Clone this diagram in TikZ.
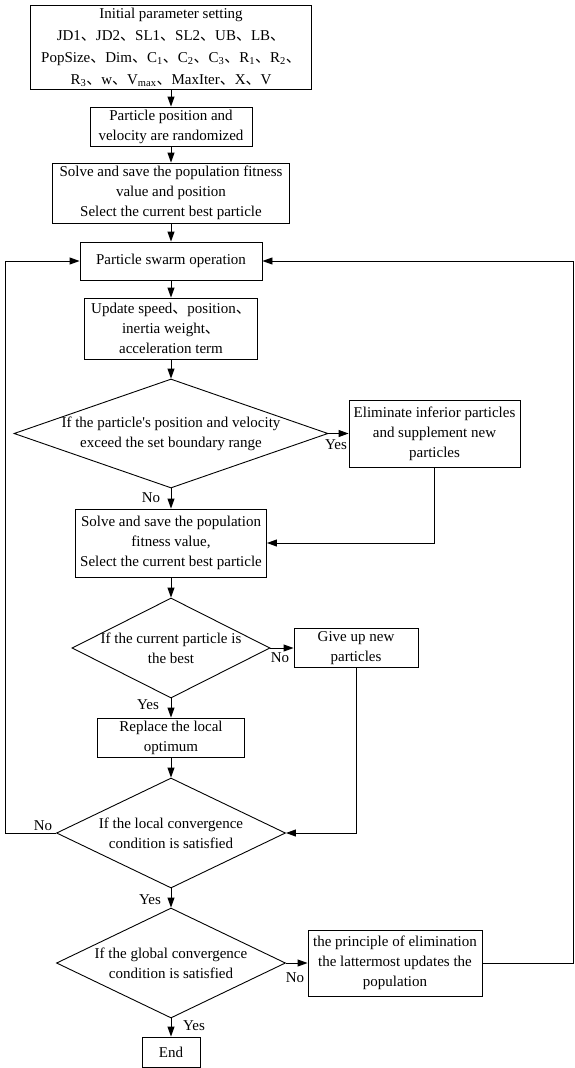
\documentclass[tikz,border=0pt]{standalone}
\usepackage{fontspec}
\setmainfont{Liberation Serif}[Ligatures=TeXOff]
\newfontfamily\cjkf{Noto Sans CJK SC}
\newcommand{\dcm}{{\cjkf 、}}
\usetikzlibrary{shapes.geometric,arrows.meta}
\begin{document}
\begin{tikzpicture}[x=1pt,y=-1pt,
  txt/.style={font=\fontsize{15}{20}\selectfont, align=center, inner sep=0pt},
  box/.style={txt, draw, line width=0.9pt},
  dia/.style={diamond, draw, line width=0.9pt, inner sep=0pt},
  lbl/.style={font=\fontsize{15}{18}\selectfont, inner sep=0pt},
  arr/.style={line width=0.9pt, -{Triangle[length=10pt,width=7pt]}},
  ln/.style={line width=0.9pt}]
\useasboundingbox (0,0) rectangle (574,1068);
\node[box, minimum width=280.5pt, minimum height=84pt, font=\fontsize{15}{22}\selectfont] (init) at (171,47)
  {Initial parameter setting\\JD1\dcm JD2\dcm SL1\dcm SL2\dcm UB\dcm LB\dcm\\PopSize\dcm Dim\dcm C\textsubscript{1}\dcm C\textsubscript{2}\dcm C\textsubscript{3}\dcm R\textsubscript{1}\dcm R\textsubscript{2}\dcm\\R\textsubscript{3}\dcm w\dcm V\textsubscript{max}\dcm MaxIter\dcm X\dcm V};
\node[box, minimum width=162pt, minimum height=39pt] (rand) at (171,126.5)
  {Particle position and\\velocity are randomized};
\node[box, minimum width=237pt, minimum height=60pt] (solve1) at (171,193)
  {Solve and save the population fitness\\value and position\\Select the current best particle};
\node[box, minimum width=182pt, minimum height=38pt] (swarm) at (171,261)
  {Particle swarm operation};
\node[box, minimum width=173pt, minimum height=61pt] (upd) at (171,328.5)
  {Update speed\dcm position\dcm\\inertia weight\dcm\\acceleration term};
\node[dia, minimum width=314pt, minimum height=109pt] (d1) at (171,433.5) {};
\node[txt] (d1t) at (d1) {If the particle's position and velocity\\exceed the set boundary range};
\node[box, minimum width=171pt, minimum height=67pt] (elim) at (434.5,433.5)
  {Eliminate inferior particles\\and supplement new\\particles};
\node[box, minimum width=191pt, minimum height=68pt] (solve2) at (171,543)
  {Solve and save the population\\fitness value,\\Select the current best particle};
\node[dia, minimum width=198pt, minimum height=100pt] (d2) at (171,648) {};
\node[txt] (d2t) at (d2) {If the current particle is\\the best};
\node[box, minimum width=124pt, minimum height=39pt] (give) at (356,648)
  {Give up new\\particles};
\node[box, minimum width=147pt, minimum height=39pt] (repl) at (171,737.5)
  {Replace the local\\optimum};
\node[dia, minimum width=229pt, minimum height=110pt] (d3) at (171,833) {};
\node[txt] (d3t) at (d3) {If the local convergence\\condition is satisfied};
\node[dia, minimum width=229pt, minimum height=110pt] (d4) at (171,963) {};
\node[txt] (d4t) at (d4) {If the global convergence\\condition is satisfied};
\node[box, minimum width=174pt, minimum height=66pt] (popu) at (395,963)
  {the principle of elimination\\the lattermost updates the\\population};
\node[box, minimum width=58pt, minimum height=30pt] (end) at (171,1052) {End};
\coordinate (lx) at (5,261);
\coordinate (rx) at (573.8,261);
\draw[arr] (init) -- (rand);
\draw[arr] (rand) -- (solve1);
\draw[arr] (solve1) -- (swarm);
\draw[arr] (swarm) -- (upd);
\draw[arr] (upd) -- (d1);
\draw[arr] (d1.east) -- (elim.west);
\draw[arr] (d1) -- (solve2);
\draw[arr] (elim.south) |- (solve2.east);
\draw[arr] (solve2) -- (d2);
\draw[arr] (d2.east) -- (give.west);
\draw[arr] (d2) -- (repl);
\draw[arr] (give.south) |- (d3.east);
\draw[arr] (repl) -- (d3);
\draw[arr] (d3.west) -| (lx) -- (swarm.west);
\draw[arr] (d3) -- (d4);
\draw[arr] (d4.east) -- (popu.west);
\draw[arr] (d4) -- (end);
\draw[arr] (popu.east) -| (rx) -- (swarm.east);
\node[lbl] (y1) at (336,445) {Yes};
\node[lbl] (n1) at (151,498) {No};
\node[lbl] (n2) at (280,658) {No};
\node[lbl] (y2) at (148,705) {Yes};
\node[lbl] (n3) at (43,826) {No};
\node[lbl] (y3) at (150,900) {Yes};
\node[lbl] (n4) at (295,978) {No};
\node[lbl] (y4) at (194,1026) {Yes};
\end{tikzpicture}
\end{document}
